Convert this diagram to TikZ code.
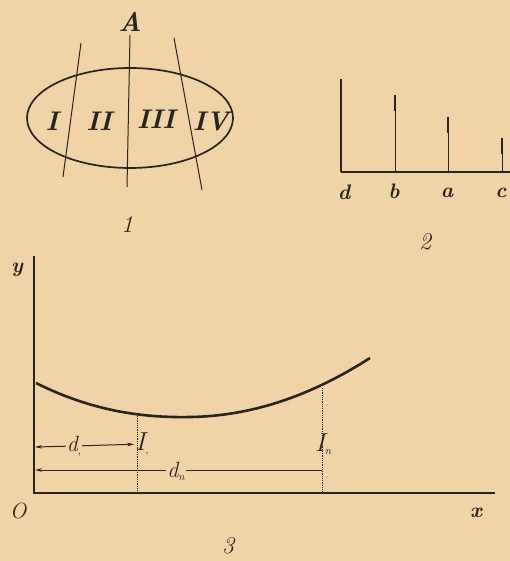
\documentclass[tikz,border=0pt]{standalone}
\usepackage{fontspec}
\setmainfont{Latin Modern Roman}
\usetikzlibrary{arrows.meta}
\definecolor{paper}{RGB}{240,211,166}
\definecolor{ink}{RGB}{40,36,32}
\newcommand{\sz}[1]{\fontsize{#1}{#1}\selectfont}
\begin{document}
\begin{tikzpicture}[x=1pt,y=-1pt,
  ink/.style={draw=ink,line width=1.4pt},
  thinink/.style={draw=ink,line width=1pt},
  lbl/.style={text=ink,font=\sz{21}\bfseries\itshape,inner sep=1pt},
  roman/.style={text=ink,font=\sz{27}\bfseries\itshape,inner sep=1pt},
  numlbl/.style={text=ink,font=\sz{24}\itshape,inner sep=1pt},
  bar/.style={draw=ink,line width=2.6pt},
  dimarrow/.style={draw=ink,line width=1pt,-{Stealth[length=7pt,width=3.5pt]}},
  dots/.style={draw=ink,line width=0.8pt,densely dotted}]
\fill[paper] (0,0) rectangle (510,561);
\useasboundingbox (0,0) rectangle (510,561);

% ---------- Figure 1 ----------
\node[text=ink,font=\sz{27}\bfseries\itshape] (A) at (130,22) {A};
\draw[ink,line width=1.7pt] (130,118) ellipse [x radius=103, y radius=50];
\coordinate (l1a) at (81,43);  \coordinate (l1b) at (63,177);
\coordinate (l2a) at (130,35); \coordinate (l2b) at (127,187);
\coordinate (l3a) at (174,38); \coordinate (l3b) at (202,190);
\draw[thinink] (l1a) -- (l1b);
\draw[thinink] (l2a) -- (l2b);
\draw[thinink] (l3a) -- (l3b);
\node[roman] (r1) at (52,121) {I};
\node[roman] (r2) at (99,121) {II};
\node[roman] (r3) at (156,119) {III};
\node[roman] (r4) at (211,121) {IV};
\node[numlbl] (f1) at (127,225) {1};

% ---------- Figure 2 ----------
\coordinate (o2) at (341,172);
\coordinate (e2) at (510,172);
\draw[ink] (o2) -- (e2);
\coordinate (td) at (341,79);
\coordinate (tb) at (395,95);
\coordinate (ta) at (448,117);
\coordinate (tc) at (502,138);
\coordinate (bd) at (341,172);
\coordinate (bb) at (395,172);
\coordinate (ba) at (448,172);
\coordinate (bc) at (502,172);
\draw[ink] (td) -- (bd);
\draw[thinink] (tb) -- (bb);
\draw[thinink] (ta) -- (ba);
\draw[thinink] (tc) -- (bc);
\draw[bar] (td) -- ++(0,14);
\draw[bar] (tb) -- ++(0,16);
\draw[bar] (ta) -- ++(0,16);
\draw[bar] (tc) -- ++(0,16);
\node[lbl] (nd) at (344,192) {d};
\node[lbl] (nb) at (394,191) {b};
\node[lbl] (na) at (447,193) {a};
\node[lbl] (nc) at (501,193) {c};
\node[numlbl] (f2) at (425,242) {2};

% ---------- Figure 3 ----------
\coordinate (O3) at (34,493);
\coordinate (ytop) at (34,256);
\coordinate (xend) at (495,493);
\draw[ink] (ytop) -- (O3) -- (xend);
\node[lbl] (ny) at (17,270) {y};
\node[text=ink,font=\sz{22}\itshape,inner sep=1pt] (nO) at (18,511) {O};
\node[lbl] (nx) at (476,513) {x};
\node[numlbl] (f3) at (228,546) {3};

\coordinate (c0) at (36,383);
\coordinate (cmin) at (190,417);
\coordinate (cend) at (370,358);
\draw[draw=ink,line width=2.6pt] (c0) .. controls (90,410) and (140,418) .. (cmin)
  .. controls (260,416) and (320,390) .. (cend);

\coordinate (p1) at (137,416);
\coordinate (q1) at (137,493);
\coordinate (pn) at (322,388);
\coordinate (qn) at (322,493);
\draw[dots] (p1) -- (q1);
\draw[dots] (pn) -- (qn);

\node[text=ink,font=\sz{26}\itshape,inner sep=1pt] (I1) at (142,444) {I\raisebox{-3pt}{\sz{12}\textup{,}}};
\node[text=ink,font=\sz{26}\itshape,inner sep=1pt] (In) at (323,444) {I\raisebox{-3pt}{\sz{11}n}};
\node[text=ink,font=\sz{22}\itshape,inner sep=1pt] (d1) at (74,446) {d\raisebox{-3pt}{\sz{11}\textup{,}}};
\node[text=ink,font=\sz{22}\itshape,inner sep=1pt] (dn) at (176,471) {d\raisebox{-3pt}{\sz{11}n}};
\coordinate (L1) at (35,447);
\coordinate (L2) at (35,470);
\coordinate (R2) at (322,470);
\draw[dimarrow] (d1) -- (L1);
\draw[dimarrow] (d1) -- (I1);
\draw[dimarrow] (dn.west |- L2) -- (L2);
\draw[draw=ink,line width=1pt] (dn.east |- R2) -- (R2);
\end{tikzpicture}
\end{document}
